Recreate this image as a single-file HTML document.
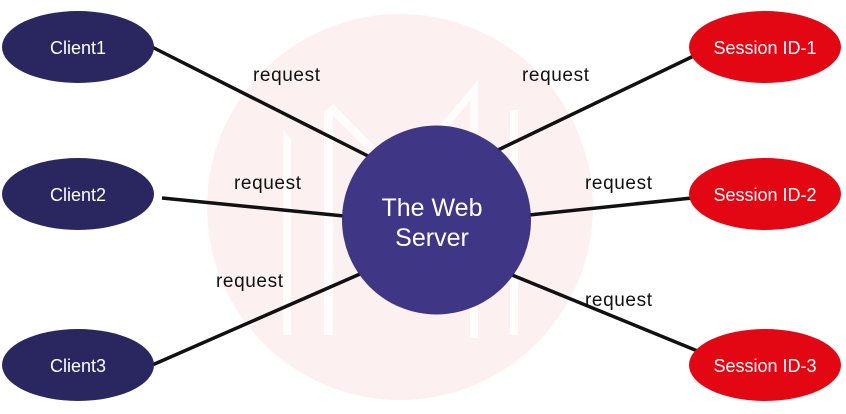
<!DOCTYPE html>
<html><head><style>
body{margin:0;background:#fff;}
svg{display:block;font-family:"Liberation Sans",sans-serif;}
</style></head><body>
<svg width="846" height="414" viewBox="0 0 846 414">
<circle cx="400" cy="207" r="193" fill="#fdf0f1"/>
<g fill="#ffffff" opacity="0.85">
<polygon points="283,130 291,140 291,335 283,335"/>
<polygon points="324,112 333,104 333,335 324,335"/>
<polygon points="333,104 400,172 400,182 333,116"/>
<polygon points="400,172 478,80 478,92 400,182"/>
<polygon points="470,100 478,80 478,338 470,338"/>
<polygon points="510,110 518,110 518,335 510,335"/>
</g>
<g stroke="#111" stroke-width="3.5">
<line x1="150" y1="46" x2="368" y2="156"/>
<line x1="162" y1="198" x2="344" y2="216"/>
<line x1="150" y1="366" x2="360" y2="274"/>
<line x1="498" y1="150" x2="702" y2="52"/>
<line x1="529" y1="215" x2="692" y2="198"/>
<line x1="512" y1="275" x2="700" y2="352"/>
</g>
<circle cx="436.5" cy="220" r="94.5" fill="#3a2f82" opacity="0.97"/>
<g fill="#2a2660">
<ellipse cx="78" cy="47" rx="76" ry="36"/>
<ellipse cx="78" cy="194" rx="76" ry="36"/>
<ellipse cx="78" cy="365" rx="76" ry="36"/>
</g>
<g fill="#e30613">
<ellipse cx="765" cy="47" rx="76" ry="36"/>
<ellipse cx="765" cy="194" rx="76" ry="36"/>
<ellipse cx="765" cy="365" rx="76" ry="36"/>
</g>
<g fill="#fff" font-size="18" text-anchor="middle">
<text x="78" y="54">Client1</text>
<text x="78" y="201">Client2</text>
<text x="78" y="372">Client3</text>
<text x="765" y="54">Session ID-1</text>
<text x="765" y="201">Session ID-2</text>
<text x="765" y="372">Session ID-3</text>
<text x="432" y="216" font-size="25">The Web</text>
<text x="432" y="246" font-size="25">Server</text>
</g>
<g fill="#111" font-size="19" letter-spacing="0.6">
<text x="253" y="81">request</text>
<text x="234" y="189">request</text>
<text x="216" y="287">request</text>
<text x="522" y="81">request</text>
<text x="585" y="189">request</text>
<text x="585" y="306">request</text>
</g>
</svg>
</body></html>
